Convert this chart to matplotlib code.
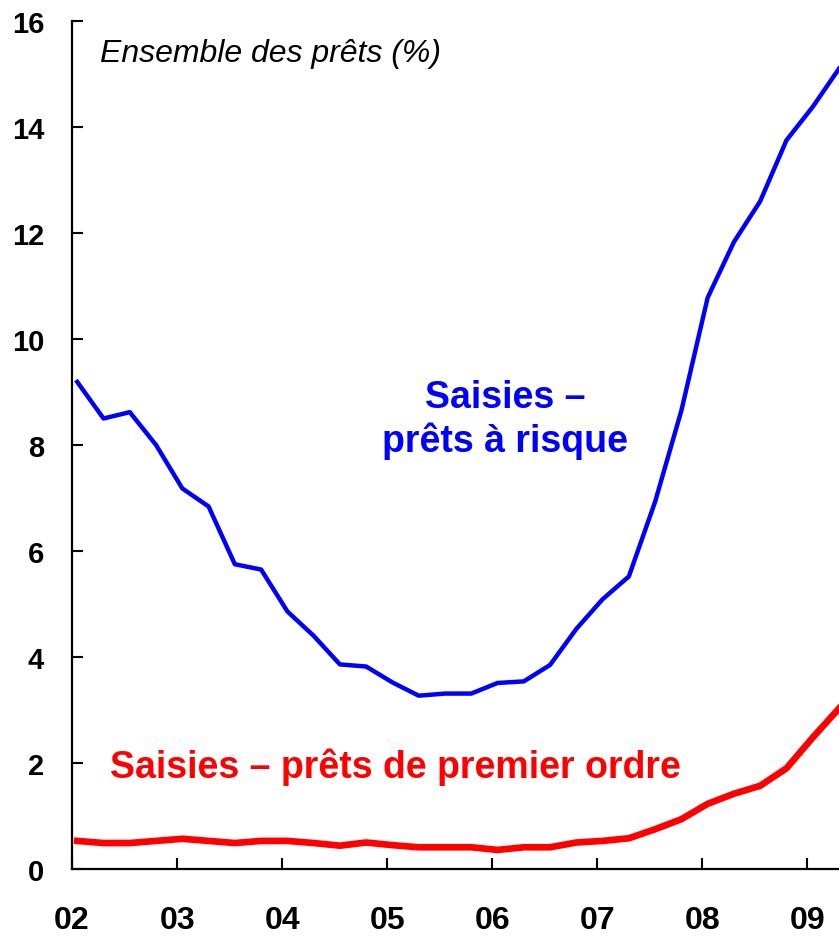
import matplotlib
matplotlib.use('Agg')
import matplotlib.pyplot as plt
from matplotlib import font_manager

# Données trimestrielles 2002T1 - 2009T2 (taux de saisies, %)
annee_debut = 2002.05
pas = 0.25
saisies_risque = [9.19, 8.50, 8.62, 8.00, 7.18, 6.84, 5.75, 5.65, 4.86, 4.40,
                  3.86, 3.82, 3.52, 3.27, 3.31, 3.31, 3.51, 3.54, 3.85, 4.53,
                  5.09, 5.52, 6.93, 8.65, 10.78, 11.83, 12.60, 13.75, 14.38, 15.10]
saisies_premier = [0.53, 0.49, 0.49, 0.53, 0.57, 0.53, 0.49, 0.53, 0.53, 0.49,
                   0.44, 0.50, 0.45, 0.41, 0.41, 0.41, 0.36, 0.41, 0.41, 0.50,
                   0.53, 0.58, 0.75, 0.94, 1.23, 1.42, 1.57, 1.90, 2.48, 3.03]
annees = list(range(2002, 2010))
etiquettes_x = ['02', '03', '04', '05', '06', '07', '08', '09']
etiquettes_y = list(range(0, 17, 2))

dates = [annee_debut + pas * i for i in range(len(saisies_risque))]

noms = {f.name for f in font_manager.fontManager.ttflist}
police = 'Liberation Sans' if 'Liberation Sans' in noms else 'DejaVu Sans'
if 'Liberation Sans Narrow' in noms:
    police_x, taille_x = 'Liberation Sans Narrow', 26
else:
    police_x, taille_x = police, 23
plt.rcParams['font.family'] = [police, 'DejaVu Sans']

fig = plt.figure(figsize=(8.39, 9.37), dpi=100)
ax = fig.add_axes([72 / 839, 67 / 937, 1 - 72 / 839, 848 / 937])

ax.plot(dates, saisies_risque, color='#0000ff', linewidth=3.2, clip_on=False)
ax.plot(dates, saisies_premier, color='#ff0000', linewidth=4.8, clip_on=False)

ax.set_xlim(2002, 2009.3)
ax.set_ylim(0, 16)

for cote in ['top', 'right']:
    ax.spines[cote].set_visible(False)
for cote in ['left', 'bottom']:
    ax.spines[cote].set_linewidth(1.6)

ax.set_xticks(annees)
ax.set_xticklabels(etiquettes_x, fontsize=taille_x, fontweight='bold', family=police_x)
ax.set_yticks(etiquettes_y)
ax.set_yticklabels([str(v) for v in etiquettes_y], fontsize=21, fontweight='bold')
ax.tick_params(axis='x', direction='in', length=8, width=1.5, pad=26)
ax.tick_params(axis='y', direction='in', length=8, width=1.5, pad=20)

# Textes dans le graphique
ax.text(2002.27, 15.4, 'Ensemble des prêts (%)', fontsize=23, fontstyle='italic',
        va='center', ha='left')
ax.text(2006.12, 8.49, 'Saisies –\nprêts à risque', fontsize=27, fontweight='bold',
        color='#0000ff', ha='center', va='center', linespacing=1.2)
ax.text(2002.36, 1.94, 'Saisies – prêts de premier ordre', fontsize=27,
        fontweight='bold', color='#ff0000', ha='left', va='center')

fig.savefig('out.png', dpi=100)
